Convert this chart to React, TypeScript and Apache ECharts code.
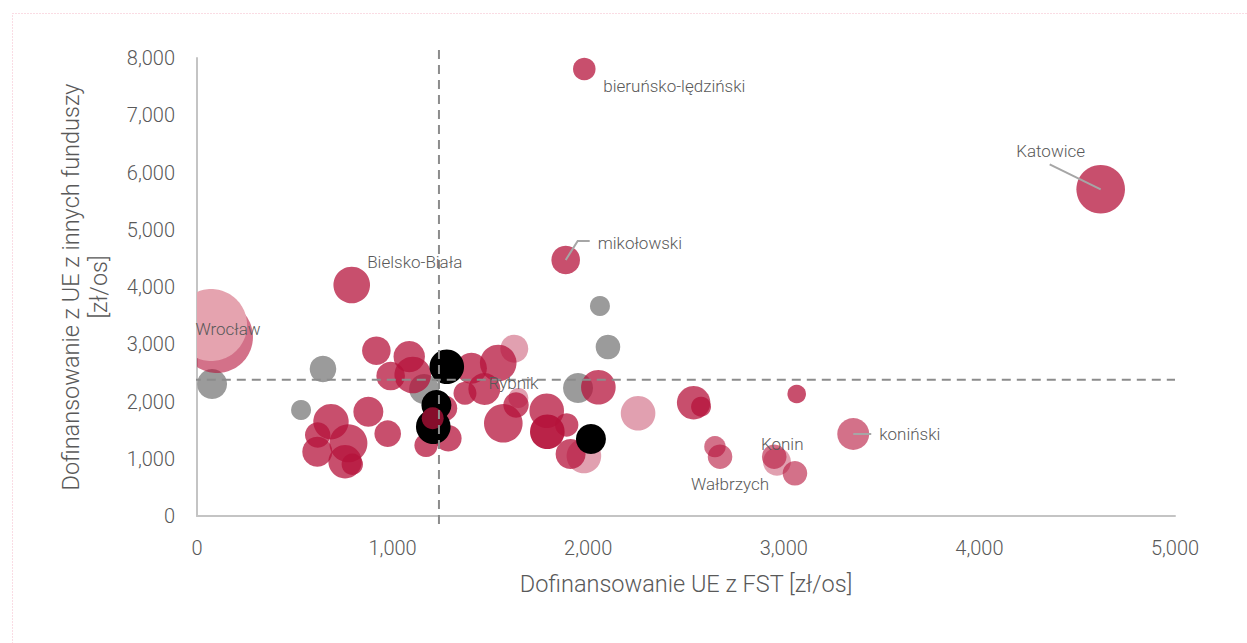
import React, { useEffect, useRef } from 'react';
import * as echarts from 'echarts';

// [x: FST zł/os, y: other EU funds zł/os, bubble radius value, name?]
type Pt = [number, number, number, string?];

const xTicks = [0, 1000, 2000, 3000, 4000, 5000];
const yTicks = [0, 1000, 2000, 3000, 4000, 5000, 6000, 7000, 8000];
const X_MIN = 0;

const grayPts: Pt[] = [
  [77, 2306, 15], [644, 2568, 13.3], [532, 1852, 10], [1161, 2218, 15],
  [1948, 2236, 15], [2060, 3668, 10], [2101, 2952, 12.3],
];
const lightPinkPts: Pt[] = [
  [1622, 2922, 14], [1643, 2061, 10], [1978, 1048, 17.3], [2255, 1794, 17.3], [2965, 948, 14],
];
const mediumPinkPts: Pt[] = [
  [102, 3127, 36], [2648, 1211, 10.7], [2674, 1036, 12.3, 'Wałbrzych'],
  [2951, 1036, 12.3, 'Konin'], [3057, 746, 12.3], [3355, 1432, 16, 'koniński'],
];
const crimsonPts: Pt[] = [
  [1980, 7808, 11.3, 'bieruńsko-lędziński'], [1885, 4472, 14.3, 'mikołowski'],
  [4620, 5707, 24.3, 'Katowice'], [791, 4035, 18.3, 'Bielsko-Biała'],
  [917, 2887, 14.3], [1085, 2783, 15.7], [990, 2445, 14.3], [1103, 2463, 18.3],
  [1403, 2580, 15.5], [1540, 2672, 18.3], [1469, 2218, 16, 'Rybnik'], [1370, 2143, 11.5],
  [1264, 1881, 13], [1285, 1357, 13.3], [1171, 1235, 11.7], [876, 1822, 15],
  [975, 1438, 13.3], [685, 1647, 17.7], [617, 1415, 12.7], [774, 1270, 19],
  [615, 1123, 15], [757, 948, 16.7], [794, 903, 10.7], [1631, 1939, 12.7],
  [1566, 1619, 19.3], [1788, 1839, 17.3], [1890, 1590, 11.7], [1910, 1083, 15],
  [2052, 2248, 17.3], [2539, 1979, 16.7], [2577, 1909, 10], [3066, 2131, 9.3],
];
const blackPts: Pt[] = [
  [1277, 2608, 17.3], [1224, 1939, 15], [1208, 1560, 17.3], [2014, 1345, 15],
];
const crimsonFrontPts: Pt[] = [[1205, 1706, 11]];
const darkPts: Pt[] = [[1791, 1472, 17.3]];
const lightPinkTopPts: Pt[] = [[72, 3336, 36, 'Wrocław']];

// averages (dashed reference lines)
const avgX = 1237;
const avgY = 2380;

const CRIMSON = [181, 18, 58];
const rgba = (c: number[], a: number) => `rgba(${c[0]},${c[1]},${c[2]},${a})`;

const layers = [
  { key: 'gray', pts: grayPts, fill: '#9B9B9B' },
  { key: 'lightPink', pts: lightPinkPts, fill: rgba(CRIMSON, 0.4) },
  { key: 'mediumPink', pts: mediumPinkPts, fill: rgba(CRIMSON, 0.6) },
  { key: 'crimson', pts: crimsonPts, fill: rgba(CRIMSON, 0.74) },
  { key: 'black', pts: blackPts, fill: '#000000' },
  { key: 'crimsonFront', pts: crimsonFrontPts, fill: rgba(CRIMSON, 0.74) },
  { key: 'dark', pts: darkPts, fill: rgba(CRIMSON, 0.93) },
  { key: 'lightPinkTop', pts: lightPinkTopPts, fill: '#E5A3AF' },
];

// label placement (pixel offsets from the bubble centre)
const labelDefs = [
  { name: 'bieruńsko-lędziński', dx: 19, dy: 17, align: 'left' },
  { name: 'mikołowski', dx: 32, dy: -17, align: 'left', leader: [[0, 0], [12, -19], [24, -19]] },
  { name: 'Katowice', dx: -50, dy: -38, align: 'center', leader: [[0, 0], [-51, -25]] },
  { name: 'Bielsko-Biała', dx: 63, dy: -23, align: 'center' },
  { name: 'Wrocław', dx: 17, dy: 4, align: 'center' },
  { name: 'Rybnik', dx: 29, dy: -6, align: 'center' },
  { name: 'Konin', dx: 8, dy: -13, align: 'center' },
  { name: 'Wałbrzych', dx: 10, dy: 27, align: 'center' },
  { name: 'koniński', dx: 26, dy: 0, align: 'left', leader: [[0, 0], [18, 0]] },
];

const FONT = 'Roboto';
const TEXT = '#595959';

export default function App() {
  const ref = useRef<HTMLDivElement>(null);
  useEffect(() => {
    if (!ref.current) return;
    const chart = echarts.init(ref.current, undefined, { renderer: 'svg' });

    const allPts: Pt[] = layers.flatMap((l) => l.pts);
    const labelData = labelDefs.map((d) => {
      const p = allPts.find((q) => q[3] === d.name)!;
      return [p[0], p[1]];
    });

    const bubbleSeries = layers.map((l) => ({
      type: 'custom',
      name: l.key,
      coordinateSystem: 'cartesian2d',
      clip: false,
      silent: true,
      z: 2,
      encode: { x: 0, y: 1 },
      data: l.pts.map((p) => [p[0], p[1], p[2]]),
      renderItem: (params: any, api: any) => {
        const c = api.coord([api.value(0), api.value(1)]);
        const r = api.value(2);
        const left = api.coord([X_MIN, api.value(1)])[0];
        if (c[0] - r >= left) {
          return {
            type: 'circle',
            shape: { cx: c[0], cy: c[1], r },
            style: { fill: l.fill },
          };
        }
        // bubble crosses the y axis: clip it to the plot area
        const pts: number[][] = [];
        const n = 120;
        for (let i = 0; i < n; i++) {
          const a = (i / n) * Math.PI * 2;
          pts.push([Math.max(left, c[0] + r * Math.cos(a)), c[1] + r * Math.sin(a)]);
        }
        return { type: 'polygon', shape: { points: pts }, style: { fill: l.fill } };
      },
    }));

    const fmt = (v: number) => v.toLocaleString('en-US');

    chart.setOption({
      animation: false,
      backgroundColor: '#ffffff',
      grid: { left: 197, right: 72, top: 58, bottom: 127, containLabel: false },
      graphic: [
        {
          type: 'rect',
          left: 10,
          top: 11,
          shape: { width: 1260, height: 660 },
          style: { fill: 'none', stroke: '#F5B8C9', lineWidth: 1, lineDash: [1, 2] },
          silent: true,
        },
      ],
      xAxis: {
        type: 'value',
        min: X_MIN,
        max: 5000,
        interval: 1000,
        name: 'Dofinansowanie UE z FST [zł/os]',
        nameLocation: 'middle',
        nameGap: 56,
        nameTextStyle: { color: TEXT, fontSize: 23.5, fontFamily: FONT, fontWeight: 300 },
        axisLine: { show: true, lineStyle: { color: '#C4C4C4', width: 2 } },
        axisTick: { show: false },
        splitLine: { show: false },
        axisLabel: { formatter: fmt, color: TEXT, fontSize: 20, fontFamily: FONT, fontWeight: 300, margin: 22 },
      },
      yAxis: {
        type: 'value',
        min: 0,
        max: 8000,
        interval: 1000,
        name: 'Dofinansowanie z UE z innych funduszy\n[zł/os]',
        nameLocation: 'middle',
        nameGap: 84,
        nameTextStyle: { color: TEXT, fontSize: 23.5, fontFamily: FONT, fontWeight: 300, lineHeight: 28 },
        axisLine: { show: true, lineStyle: { color: '#C4C4C4', width: 2 } },
        axisTick: { show: false },
        splitLine: { show: false },
        axisLabel: { formatter: fmt, color: TEXT, fontSize: 20, fontFamily: FONT, fontWeight: 300, margin: 22 },
      },
      series: [
        ...bubbleSeries,
        {
          type: 'line',
          name: 'avgY',
          data: [[-180, avgY], [5000, avgY]],
          symbol: 'none',
          clip: false,
          silent: true,
          z: 3,
          lineStyle: { color: '#8C8C8C', width: 2, type: [9, 6] },
        },
        {
          type: 'line',
          name: 'avgX',
          data: [[avgX, 8140], [avgX, -160]],
          symbol: 'none',
          clip: false,
          silent: true,
          z: 3,
          lineStyle: { color: '#8C8C8C', width: 2, type: [9, 6] },
        },
        {
          type: 'custom',
          name: 'labels',
          coordinateSystem: 'cartesian2d',
          clip: false,
          silent: true,
          z: 4,
          encode: { x: 0, y: 1 },
          data: labelData,
          renderItem: (params: any, api: any) => {
            const d: any = labelDefs[params.dataIndex];
            const c = api.coord([api.value(0), api.value(1)]);
            const children: any[] = [];
            if (d.leader) {
              children.push({
                type: 'polyline',
                shape: { points: d.leader.map((q: number[]) => [c[0] + q[0], c[1] + q[1]]) },
                style: { stroke: '#A6A6A6', lineWidth: 2, fill: null },
              });
            }
            children.push({
              type: 'text',
              style: {
                text: d.name,
                x: c[0] + d.dx,
                y: c[1] + d.dy,
                align: d.align,
                verticalAlign: 'middle',
                fill: TEXT,
                fontSize: 17,
                fontFamily: FONT,
                fontWeight: 300,
              },
            });
            return { type: 'group', children };
          },
        },
      ],
    });
    return () => chart.dispose();
  }, []);

  return (
    <div
      ref={ref}
      style={{ position: 'fixed', left: 0, top: 0, width: 1247, height: 643, background: '#fff' }}
    />
  );
}
